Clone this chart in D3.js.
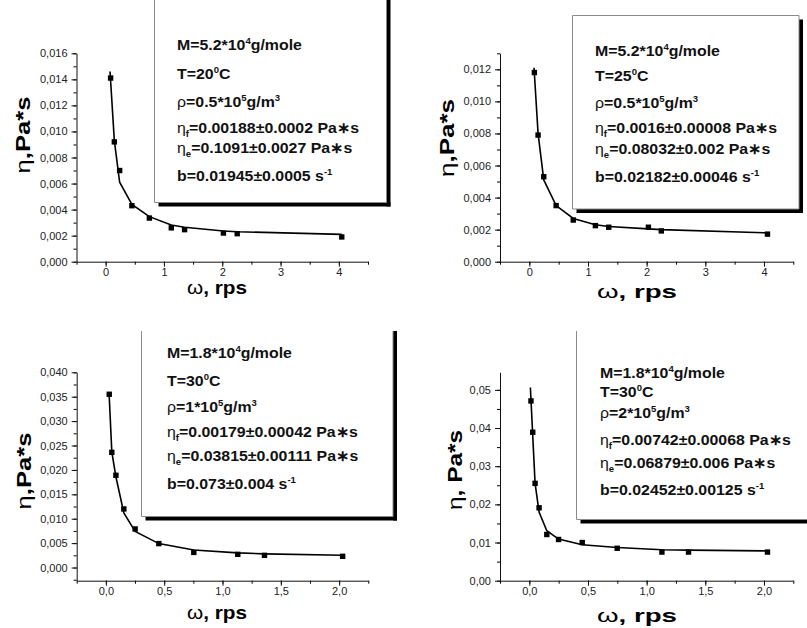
<!DOCTYPE html>
<html>
<head>
<meta charset="utf-8">
<script src="https://cdn.jsdelivr.net/npm/d3@7"></script>
<style>
  body { margin: 0; background: #fff; }
  svg { display: block; }
  text { font-family: Arial, "Liberation Sans", sans-serif; }
</style>
</head>
<body>
<div id="chart"></div>
<script>
// Panel 1: M=5.2*10^4, T=20C
let omega1 = [0.085, 0.149, 0.24, 0.45, 0.75, 1.126, 1.354, 2.02, 2.257, 4.05]
let eta1 = [0.0141, 0.0092, 0.0070, 0.0043, 0.00335, 0.0026, 0.00246, 0.0022, 0.00215, 0.0019]
let fitOmega1 = [0.075, 0.149, 0.24, 0.45, 0.75, 1.126, 1.354, 2.02, 2.257, 4.05]
let fitEta1 = [0.0146, 0.0093, 0.0061, 0.0044, 0.00346, 0.00282, 0.00264, 0.00236, 0.0023, 0.0021]
let legend1 = ["M=5.2*10^{4}g/mole", "T=20^{0}C", "ρ=0.5*10^{5}g/m^{3}",
  "η_{f}=0.00188±0.0002 Pa∗s", "η_{e}=0.1091±0.0027 Pa∗s", "b=0.01945±0.0005 s^{-1}"]

// Panel 2: M=5.2*10^4, T=25C
let omega2 = [0.086, 0.149, 0.246, 0.457, 0.749, 1.126, 1.354, 2.03, 2.25, 4.06]
let eta2 = [0.0118, 0.0079, 0.0053, 0.0035, 0.0026, 0.00225, 0.00215, 0.00215, 0.00192, 0.00172]
let fitOmega2 = [0.08, 0.149, 0.246, 0.457, 0.749, 1.126, 1.354, 2.03, 2.25, 4.06]
let fitEta2 = [0.0121, 0.0080, 0.0051, 0.0035, 0.0027, 0.0023, 0.0022, 0.00205, 0.0020, 0.0018]
let legend2 = ["M=5.2*10^{4}g/mole", "T=25^{0}C", "ρ=0.5*10^{5}g/m^{3}",
  "η_{f}=0.0016±0.00008 Pa∗s", "η_{e}=0.08032±0.002 Pa∗s", "b=0.02182±0.00046 s^{-1}"]

// Panel 3: M=1.8*10^4, rho=1*10^5
let omega3 = [0.029, 0.051, 0.086, 0.154, 0.251, 0.454, 0.754, 1.131, 1.36, 2.03]
let eta3 = [0.0355, 0.0236, 0.0189, 0.0120, 0.0079, 0.0049, 0.0031, 0.0027, 0.0025, 0.0023]
let fitOmega3 = [0.029, 0.051, 0.086, 0.154, 0.251, 0.454, 0.754, 1.131, 1.36, 2.03]
let fitEta3 = [0.0350, 0.0237, 0.0186, 0.0112, 0.0074, 0.0049, 0.0036, 0.0030, 0.0028, 0.0025]
let legend3 = ["M=1.8*10^{4}g/mole", "T=30^{0}C", "ρ=1*10^{5}g/m^{3}",
  "η_{f}=0.00179±0.00042 Pa∗s", "η_{e}=0.03815±0.00111 Pa∗s", "b=0.073±0.004 s^{-1}"]

// Panel 4: M=1.8*10^4, rho=2*10^5
let omega4 = [0.014, 0.029, 0.049, 0.083, 0.149, 0.249, 0.451, 0.749, 1.13, 1.357, 2.03]
let eta4 = [0.0471, 0.0389, 0.0255, 0.0191, 0.0121, 0.0108, 0.0100, 0.0085, 0.0075, 0.0075, 0.0075]
let fitOmega4 = [0.009, 0.029, 0.049, 0.083, 0.149, 0.249, 0.451, 0.749, 1.13, 1.357, 2.03]
let fitEta4 = [0.0506, 0.0380, 0.0255, 0.0180, 0.0131, 0.0109, 0.0094, 0.0087, 0.0081, 0.0080, 0.0078]
let legend4 = ["M=1.8*10^{4}g/mole", "T=30^{0}C", "ρ=2*10^{5}g/m^{3}",
  "η_{f}=0.00742±0.00068 Pa∗s", "η_{e}=0.06879±0.006 Pa∗s", "b=0.02452±0.00125 s^{-1}"]

let yTitles = ["η,Pa*s", "η,Pa*s", "η,Pa*s", "η, Pa*s"]
let xTitle = "ω, rps"

// layout of the four panels (pixels), axis ranges and tick steps
let panels = [
  { wx: omega1, wy: eta1, fx: fitOmega1, fy: fitEta1, legend: legend1, yTitle: yTitles[0],
    left: 76.5, right: 368, top: 53.3, bottom: 261.7,
    xDomain: [-0.5, 4.5], xMajor: 1, xMinor: 0.5, xDec: 0,
    yDomain: [0, 0.016], yMajor: 0.002, yMinor: 0.001, yDec: 3,
    box: { left: 154.5, top: -10, right: 386.5, bottom: 202.5, topEdge: false },
    textX: 177, lines: [50, 79, 107, 133, 153, 181],
    yTitlePos: [23, 135, 77], xTitlePos: [217, 294, 60, 18] },
  { wx: omega2, wy: eta2, fx: fitOmega2, fy: fitEta2, legend: legend2, yTitle: yTitles[1],
    left: 500, right: 793.3, top: 53.3, bottom: 261.7,
    xDomain: [-0.5, 4.5], xMajor: 1, xMinor: 0.5, xDec: 0,
    yDomain: [0, 0.013], yMajor: 0.002, yMinor: 0.001, yDec: 3,
    box: { left: 572.5, top: 15.5, right: 799, bottom: 209, topEdge: true },
    textX: 595, lines: [56, 81, 108, 133, 154, 182],
    yTitlePos: [447, 138, 78], xTitlePos: [637, 298, 80, 19] },
  { wx: omega3, wy: eta3, fx: fitOmega3, fy: fitEta3, legend: legend3, yTitle: yTitles[2],
    left: 76.7, right: 368.3, top: 372.3, bottom: 580.7,
    xDomain: [-0.25, 2.25], xMajor: 0.5, xMinor: 0.25, xDec: 1,
    yDomain: [-0.0027, 0.040], yMajor: 0.005, yMinor: 0.0025, yDec: 3,
    box: { left: 141.5, top: 331, right: 393, bottom: 516.5, topEdge: false },
    textX: 167, lines: [358, 386, 412, 437, 461, 489],
    yTitlePos: [24, 471, 77], xTitlePos: [217, 619, 60, 18] },
  { wx: omega4, wy: eta4, fx: fitOmega4, fy: fitEta4, legend: legend4, yTitle: yTitles[3],
    left: 500, right: 793.3, top: 372.3, bottom: 580.7,
    xDomain: [-0.25, 2.25], xMajor: 0.5, xMinor: 0.25, xDec: 1,
    yDomain: [0, 0.0546], yMajor: 0.01, yMinor: 0.005, yDec: 2,
    box: { left: 576.5, top: 331, right: 815, bottom: 519.5, topEdge: false },
    textX: 600, lines: [378, 397, 418, 445, 468, 495],
    yTitlePos: [455, 470, 80], xTitlePos: [637, 622, 80, 19] }
]

let svg = d3.select("#chart").append("svg")
    .attr("width", 807)
    .attr("height", 628)

svg.append("rect").attr("width", 807).attr("height", 628).attr("fill", "#fff")

// values on a fixed step that fall inside the domain
function stepTicks(domain, step) {
  let a = Math.ceil(domain[0] / step - 1e-6)
  let b = Math.floor(domain[1] / step + 1e-6)
  return d3.range(a, b + 1).map((i) => +(i * step).toFixed(6))
}

// text with ^{sup}, _{sub} and thin greek letters
function richText(sel, str, small) {
  let parts = str.split(/(\^\{[^}]*\}|_\{[^}]*\}|[ηρω])/).filter((s) => s.length)
  let cur = 0
  parts.forEach((s) => {
    let ts = sel.append("tspan")
    let target = 0
    if (s[0] == "^" && s[1] == "{") {
      ts.text(s.slice(2, -1)).attr("font-size", small)
      target = -6
    } else if (s[0] == "_" && s[1] == "{") {
      ts.text(s.slice(2, -1)).attr("font-size", small)
      target = 4
    } else {
      ts.text(s)
      if ("ηρω".indexOf(s) >= 0) ts.attr("font-weight", "normal")
    }
    if (target != cur) ts.attr("dy", target - cur)
    cur = target
  })
}

panels.forEach((p) => {
  let x = d3.scaleLinear().domain(p.xDomain).range([p.left, p.right])
  let y = d3.scaleLinear().domain(p.yDomain).range([p.bottom, p.top])
  let g = svg.append("g")

  // minor ticks
  g.append("g")
      .attr("transform", "translate(0," + p.bottom + ")")
      .call(d3.axisBottom(x).tickValues(stepTicks(p.xDomain, p.xMinor)).tickSize(3).tickFormat(""))
      .call((a) => a.select(".domain").remove())
  g.append("g")
      .attr("transform", "translate(" + p.left + ",0)")
      .call(d3.axisLeft(y).tickValues(stepTicks(p.yDomain, p.yMinor)).tickSize(3).tickFormat(""))
      .call((a) => a.select(".domain").remove())

  // major ticks with comma decimals
  let fx = (v) => d3.format("." + p.xDec + "f")(v).replace(".", ",")
  let fy = (v) => d3.format("." + p.yDec + "f")(v).replace(".", ",")
  let xAxis = g.append("g")
      .attr("transform", "translate(0," + p.bottom + ")")
      .call(d3.axisBottom(x).tickValues(stepTicks(p.xDomain, p.xMajor)).tickSize(5).tickSizeOuter(0).tickPadding(2).tickFormat(fx))
  let yAxis = g.append("g")
      .attr("transform", "translate(" + p.left + ",0)")
      .call(d3.axisLeft(y).tickValues(stepTicks(p.yDomain, p.yMajor).filter((v) => v >= 0)).tickSize(5).tickSizeOuter(0).tickPadding(4).tickFormat(fy))
  ;[xAxis, yAxis].forEach((a) => {
    a.attr("font-family", null).attr("font-size", null)
    a.selectAll("text").attr("font-size", 11).attr("fill", "#222")
    a.selectAll("line, path").attr("stroke", "#111")
  })

  // fitted curve
  let line = d3.line().x((d) => x(d[0])).y((d) => y(d[1]))
  g.append("path")
      .datum(d3.zip(p.fx, p.fy))
      .attr("d", line)
      .attr("fill", "none")
      .attr("stroke", "#000")
      .attr("stroke-width", 1.6)

  // measured points
  g.selectAll(".pt")
      .data(d3.zip(p.wx, p.wy))
      .enter().append("rect")
      .attr("x", (d) => x(d[0]) - 2.7)
      .attr("y", (d) => y(d[1]) - 2.7)
      .attr("width", 5.4)
      .attr("height", 5.4)
      .attr("fill", "#000")

  // legend box with black drop shadow
  let b = p.box
  let top = Math.max(b.top, p.top < 300 ? 0 : 331)
  g.append("rect")
      .attr("x", b.right).attr("y", b.topEdge ? top + 4 : top)
      .attr("width", 4).attr("height", b.bottom + 4 - (b.topEdge ? top + 4 : top))
      .attr("fill", "#000")
  g.append("rect")
      .attr("x", b.left + 4).attr("y", b.bottom)
      .attr("width", b.right - b.left).attr("height", 4)
      .attr("fill", "#000")
  g.append("rect")
      .attr("x", b.left).attr("y", top)
      .attr("width", b.right - b.left).attr("height", b.bottom - top)
      .attr("fill", "#fff")
  let edge = "M" + b.left + "," + top + "V" + b.bottom + "H" + b.right + "V" + top
  if (b.topEdge) edge += "H" + b.left
  g.append("path").attr("d", edge).attr("fill", "none").attr("stroke", "#8a8a8a").attr("stroke-width", 1)

  p.legend.forEach((s, i) => {
    let t = g.append("text")
        .attr("transform", "translate(" + p.textX + "," + p.lines[i] + ") scale(1.06,1)")
        .attr("font-size", 15)
        .attr("font-weight", "bold")
        .attr("fill", "#111")
    richText(t, s, 9)
  })

  // axis titles
  let yt = g.append("text")
      .attr("transform", "translate(" + p.yTitlePos[0] + "," + p.yTitlePos[1] + ") rotate(-90)")
      .attr("text-anchor", "middle")
      .attr("dy", "0.35em")
      .attr("font-size", 21)
      .attr("font-weight", "bold")
      .attr("textLength", p.yTitlePos[2])
      .attr("lengthAdjust", "spacingAndGlyphs")
  richText(yt, p.yTitle, 12)
  let xt = g.append("text")
      .attr("x", p.xTitlePos[0])
      .attr("y", p.xTitlePos[1])
      .attr("text-anchor", "middle")
      .attr("font-size", p.xTitlePos[3])
      .attr("font-weight", "bold")
      .attr("textLength", p.xTitlePos[2])
      .attr("lengthAdjust", "spacingAndGlyphs")
  richText(xt, xTitle, 12)
})
</script>
</body>
</html>
